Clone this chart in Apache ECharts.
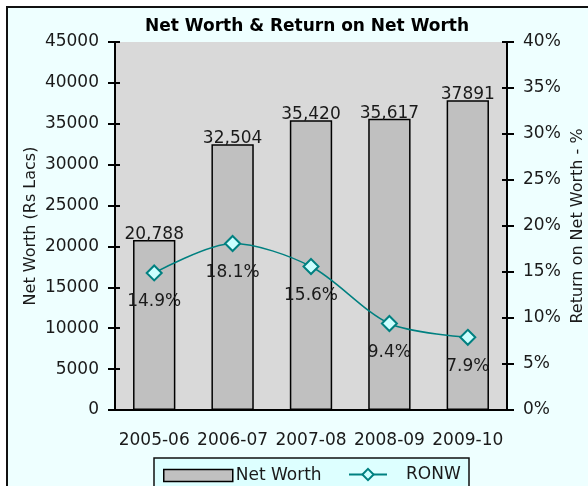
<!DOCTYPE html>
<html>
<head>
<meta charset="utf-8">
<script src="https://cdn.jsdelivr.net/npm/echarts@6/dist/echarts.min.js"></script>
<style>
  html, body { margin: 0; padding: 0; background: #ffffff; }
  #chart { width: 588px; height: 486px; }
</style>
</head>
<body>
<div id="chart"></div>
<script>
// Net worth (Rs Lacs) and return on net worth (%) by financial year
const years = ['2005-06', '2006-07', '2007-08', '2008-09', '2009-10'];
const netWorth = [20788, 32504, 35420, 35617, 37891];
const netWorthLabels = ['20,788', '32,504', '35,420', '35,617', '37891'];
const ronw = [14.9, 18.1, 15.6, 9.4, 7.9];
const ronwLabels = ['14.9%', '18.1%', '15.6%', '9.4%', '7.9%'];

const FONT = 'DejaVu Sans';
const TXT = '#1a1a1a';

const chart = echarts.init(document.getElementById('chart'), null, { renderer: 'canvas' });

const leftAxisBase = {
  type: 'value', min: 0, max: 45000, interval: 5000,
  splitLine: { show: false }
};
const rightAxisBase = {
  type: 'value', min: 0, max: 40, interval: 5,
  splitLine: { show: false }
};

chart.setOption({
  backgroundColor: '#ffffff',
  animation: false,
  graphic: [
    {
      type: 'rect', z: -10,
      shape: { x: 7, y: 7, width: 620, height: 620 },
      style: { fill: '#eeffff', stroke: '#111111', lineWidth: 2 }
    },
    {
      type: 'rect', z: -5,
      shape: { x: 154, y: 458, width: 315, height: 60 },
      style: { fill: '#ddffff', stroke: '#111111', lineWidth: 1.5 }
    }
  ],
  title: {
    text: 'Net Worth & Return on Net Worth',
    left: 140, top: 13,
    textStyle: { fontFamily: FONT, fontWeight: 'bold', fontSize: 17, color: '#000' }
  },
  legend: [
    {
      data: [{ name: 'Net Worth', icon: 'rect' }],
      left: 163, top: 467, padding: 0,
      itemWidth: 69, itemHeight: 12,
      itemStyle: { borderColor: '#000', borderWidth: 1.5 },
      textStyle: { fontFamily: FONT, fontSize: 17, color: TXT, padding: [0, 0, 0, -2] }
    },
    {
      data: ['RONW'],
      left: 348, top: 466, padding: 0,
      itemWidth: 38, itemHeight: 14,
      textStyle: { fontFamily: FONT, fontSize: 17, color: TXT, padding: [0, 0, 0, 14] }
    }
  ],
  grid: {
    left: 115, right: 81, top: 42, bottom: 76,
    outerBoundsMode: 'none', containLabel: false,
    show: true, backgroundColor: '#d9d9d9', borderWidth: 0
  },
  xAxis: {
    type: 'category', data: years, boundaryGap: true,
    axisLine: { lineStyle: { color: '#000', width: 2 } },
    axisTick: { inside: true, length: 7, lineStyle: { color: '#000', width: 2 } },
    axisLabel: { margin: 22, interval: 0, fontFamily: FONT, fontSize: 17, color: TXT }
  },
  yAxis: [
    Object.assign({}, leftAxisBase, {
      position: 'left',
      name: 'Net Worth (Rs Lacs)', nameLocation: 'middle', nameGap: 76, nameRotate: 90,
      nameMoveOverlap: false,
      nameTextStyle: { fontFamily: FONT, fontSize: 16, color: TXT },
      axisLine: { show: true, lineStyle: { color: '#000', width: 2 } },
      axisTick: { show: true, length: 7, lineStyle: { color: '#000', width: 2 } },
      axisLabel: { margin: 16, fontFamily: FONT, fontSize: 17, color: TXT, formatter: v => String(v) }
    }),
    Object.assign({}, rightAxisBase, {
      position: 'right',
      name: 'Return on Net Worth - %', nameLocation: 'middle', nameGap: 63, nameRotate: 90,
      nameMoveOverlap: false,
      nameTextStyle: { fontFamily: FONT, fontSize: 16, color: TXT },
      axisLine: { show: true, lineStyle: { color: '#000', width: 2 } },
      axisTick: { show: true, length: 7, lineStyle: { color: '#000', width: 2 } },
      axisLabel: { margin: 16, fontFamily: FONT, fontSize: 17, color: TXT, formatter: v => v + '%' }
    }),
    // inner halves of the crossing tick marks
    Object.assign({}, leftAxisBase, {
      position: 'left',
      axisLine: { show: false },
      axisTick: { show: true, inside: true, length: 5, lineStyle: { color: '#000', width: 2 } },
      axisLabel: { show: false }
    }),
    Object.assign({}, rightAxisBase, {
      position: 'right',
      axisLine: { show: false },
      axisTick: { show: true, inside: true, length: 5, lineStyle: { color: '#000', width: 2 } },
      axisLabel: { show: false }
    })
  ],
  series: [
    {
      name: 'Net Worth', type: 'bar', yAxisIndex: 0,
      data: netWorth, barWidth: '54%',
      itemStyle: { color: '#c0c0c0', borderColor: '#000', borderWidth: 1.5 },
      label: {
        show: true, position: 'top', distance: -3,
        fontFamily: FONT, fontSize: 17, color: TXT,
        formatter: p => netWorthLabels[p.dataIndex]
      },
      z: 2
    },
    {
      name: 'RONW', type: 'line', yAxisIndex: 1,
      data: ronw, smooth: 0.3,
      symbol: 'diamond', symbolSize: [15, 15],
      lineStyle: { color: '#008080', width: 1.5 },
      itemStyle: { color: '#ccffff', borderColor: '#008080', borderWidth: 2 },
      label: {
        show: true, position: 'bottom', distance: 12,
        fontFamily: FONT, fontSize: 17, color: TXT,
        formatter: p => ronwLabels[p.dataIndex]
      },
      z: 3
    }
  ]
});
</script>
</body>
</html>
